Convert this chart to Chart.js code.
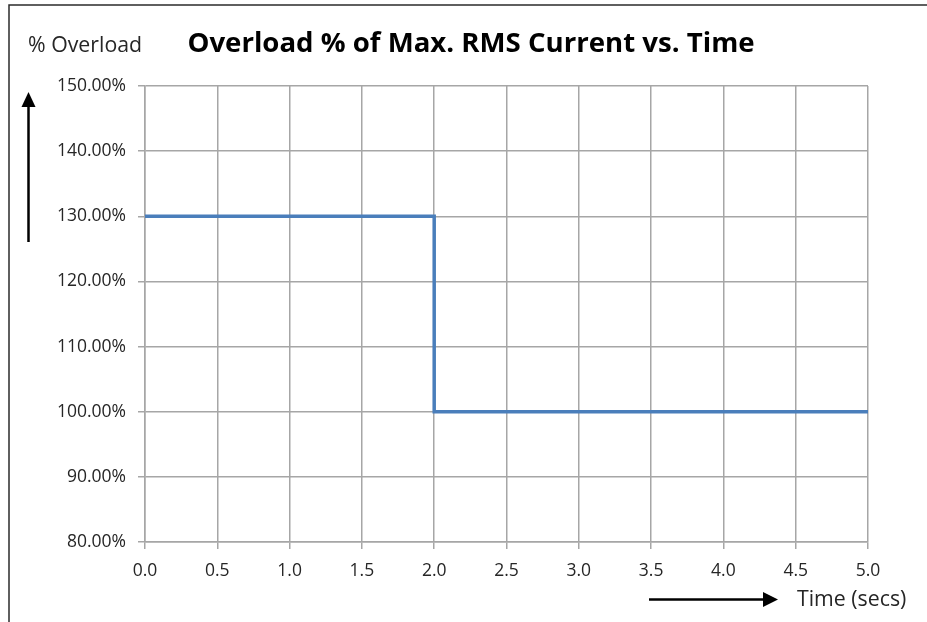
<!DOCTYPE html>
<html>
<head>
<meta charset="utf-8">
<script src="https://cdn.jsdelivr.net/npm/chart.js@4"></script>
<style>
    html, body { margin: 0; padding: 0; background: #fff; }
    #wrap { width: 927px; height: 622px; position: relative; }
</style>
</head>
<body>
<div id="wrap"><canvas id="overloadChart" width="927" height="622"></canvas></div>
<script>
// Data van de grafiek (stapfunctie)
const timeSecs = [0, 2, 2, 5];
const overloadPct = [130, 130, 100, 100];
const xTicks = [0, 0.5, 1, 1.5, 2, 2.5, 3, 3.5, 4, 4.5, 5];
const yTicks = [80, 90, 100, 110, 120, 130, 140, 150];

const chartTitle = 'Overload % of Max. RMS Current vs. Time';
const yAxisTitle = '% Overload';
const xAxisTitle = 'Time (secs)';

const FONT = "'Open Sans', 'Liberation Sans', sans-serif";

// Kader, titels en pijlen tekenen
const decorations = {
    id: 'decorations',
    afterDraw(chart) {
        const ctx = chart.ctx;
        ctx.save();
        // kader
        ctx.strokeStyle = '#2b2b2b';
        ctx.lineWidth = 1.5;
        ctx.beginPath();
        ctx.moveTo(9, 622);
        ctx.lineTo(9, 5);
        ctx.lineTo(927, 5);
        ctx.stroke();

        // titel
        ctx.fillStyle = '#000';
        ctx.textAlign = 'center';
        ctx.textBaseline = 'middle';
        ctx.font = "bold 27.6px " + FONT;
        ctx.fillText(chartTitle, 471, 44);

        // astitels
        ctx.fillStyle = '#262626';
        ctx.font = "21.3px " + FONT;
        ctx.textAlign = 'left';
        ctx.fillText(yAxisTitle, 28, 46);
        ctx.fillText(xAxisTitle, 797, 600);

        // verticale pijl
        ctx.strokeStyle = '#000';
        ctx.fillStyle = '#000';
        ctx.lineWidth = 2.5;
        ctx.beginPath();
        ctx.moveTo(28.5, 242);
        ctx.lineTo(28.5, 104);
        ctx.stroke();
        ctx.beginPath();
        ctx.moveTo(28.5, 92);
        ctx.lineTo(21.5, 107);
        ctx.lineTo(35.5, 107);
        ctx.closePath();
        ctx.fill();

        // horizontale pijl
        ctx.beginPath();
        ctx.moveTo(649, 599.5);
        ctx.lineTo(765, 599.5);
        ctx.stroke();
        ctx.beginPath();
        ctx.moveTo(778, 599.5);
        ctx.lineTo(763, 592);
        ctx.lineTo(763, 607);
        ctx.closePath();
        ctx.fill();
        ctx.restore();
    }
};

const ctx = document.getElementById('overloadChart').getContext('2d');
new Chart(ctx, {
    type: 'scatter',
    data: {
        datasets: [{
            label: 'Overload',
            data: timeSecs.map((t, i) => ({ x: t, y: overloadPct[i] })),
            showLine: true,
            borderColor: '#4a7ebb',
            backgroundColor: '#4a7ebb',
            borderWidth: 3.5,
            pointRadius: 0,
            borderJoinStyle: 'miter',
            tension: 0
        }]
    },
    options: {
        responsive: false,
        animation: false,
        layout: {
            padding: { left: 0, top: 86, right: 59, bottom: 0 }
        },
        plugins: {
            legend: { display: false },
            tooltip: { enabled: false }
        },
        scales: {
            x: {
                type: 'linear',
                min: 0,
                max: 5,
                afterBuildTicks: function(scale) {
                    scale.ticks = xTicks.map(v => ({ value: v }));
                },
                afterFit: function(scale) {
                    scale.height = 80;
                },
                grid: {
                    color: '#a6a6a6',
                    lineWidth: 1.5,
                    tickLength: 7
                },
                border: { color: '#a6a6a6', width: 1.5 },
                ticks: {
                    padding: 12,
                    color: '#262626',
                    font: { family: FONT, size: 17.5 },
                    callback: function(value) {
                        return value.toFixed(1);
                    }
                }
            },
            y: {
                min: 80,
                max: 150,
                afterBuildTicks: function(scale) {
                    scale.ticks = yTicks.map(v => ({ value: v }));
                },
                afterFit: function(scale) {
                    scale.width = 145;
                },
                grid: {
                    color: '#a6a6a6',
                    lineWidth: 1.5,
                    tickLength: 7
                },
                border: { color: '#a6a6a6', width: 1.5 },
                ticks: {
                    padding: 12,
                    color: '#262626',
                    font: { family: FONT, size: 17.5 },
                    callback: function(value) {
                        return value.toFixed(2) + '%';
                    }
                }
            }
        }
    },
    plugins: [decorations]
});
</script>
</body>
</html>
